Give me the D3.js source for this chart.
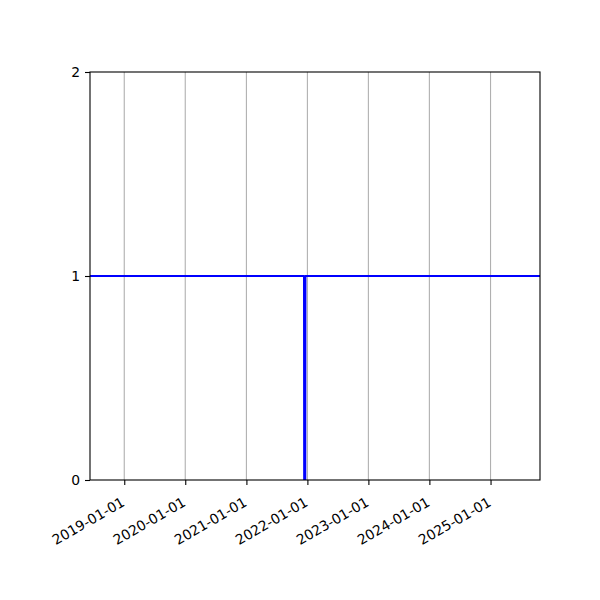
<!DOCTYPE html>
<html>
<head>
<meta charset="utf-8">
<script src="https://cdn.jsdelivr.net/npm/d3@7"></script>
<style>
  html, body { margin: 0; padding: 0; background: #fff; }
  svg { display: block; }
  text { font-family: "DejaVu Sans", sans-serif; fill: #000; }
</style>
</head>
<body>
<div id="chart"></div>
<script>
// Data
const dates = ["2018-06-01", "2021-12-12", "2021-12-13", "2021-12-19", "2021-12-20", "2025-11-01"];
const values = [1, 1, 0, 0, 1, 1];
const xTickLabels = ["2019-01-01", "2020-01-01", "2021-01-01", "2022-01-01", "2023-01-01", "2024-01-01", "2025-01-01"];
const yTickValues = [0, 1, 2];
const xDomain = ["2018-06-10", "2025-10-24"];
const yDomain = [0, 2];

const parse = d3.utcParse("%Y-%m-%d");
const fmt = d3.utcFormat("%Y-%m-%d");
const data = dates.map((d, i) => ({ date: parse(d), value: values[i] }));

const W = 600, H = 600;
const margin = { left: 90, right: 60, top: 72, bottom: 120 };
const iw = W - margin.left - margin.right;
const ih = H - margin.top - margin.bottom;

const svg = d3.select("#chart").append("svg").attr("width", W).attr("height", H);
const g = svg.append("g").attr("transform", `translate(${margin.left},${margin.top})`);

const x = d3.scaleUtc().domain(xDomain.map(parse)).range([0, iw]);
const y = d3.scaleLinear().domain(yDomain).range([ih, 0]);

const xTicks = xTickLabels.map(parse);

// grid
g.append("g").selectAll("line").data(xTicks).join("line")
  .attr("x1", d => x(d)).attr("x2", d => x(d))
  .attr("y1", 0).attr("y2", ih)
  .attr("stroke", "#b0b0b0").attr("stroke-width", 1.1);

// clip
svg.append("defs").append("clipPath").attr("id", "clip")
  .append("rect").attr("width", iw).attr("height", ih);

const line = d3.line().x(d => x(d.date)).y(d => y(d.value));
g.append("path").datum(data)
  .attr("clip-path", "url(#clip)")
  .attr("d", line)
  .attr("fill", "none")
  .attr("stroke", "#0000ff")
  .attr("stroke-width", 2.1)
  .attr("stroke-linejoin", "round");

// frame
g.append("rect").attr("width", iw).attr("height", ih)
  .attr("fill", "none").attr("stroke", "#000").attr("stroke-width", 1.1);

// x axis
const xAxis = d3.axisBottom(x).tickValues(xTicks).tickFormat(fmt).tickSize(5).tickPadding(0);
const xa = g.append("g").attr("transform", `translate(0,${ih})`).call(xAxis);
xa.select(".domain").remove();
xa.selectAll(".tick line").attr("stroke", "#000").attr("stroke-width", 1.1);
xa.selectAll(".tick text")
  .attr("font-size", "13.9px")
  .attr("font-family", "DejaVu Sans")
  .attr("text-anchor", "end")
  .attr("dy", null)
  .attr("y", 0)
  .attr("transform", "translate(1,25) rotate(-30)");

// y axis
const yAxis = d3.axisLeft(y).tickValues(yTickValues).tickFormat(d3.format("d")).tickSize(5).tickPadding(5);
const ya = g.append("g").call(yAxis);
ya.select(".domain").remove();
ya.selectAll(".tick line").attr("stroke", "#000").attr("stroke-width", 1.1);
ya.selectAll(".tick text")
  .attr("font-size", "13.9px")
  .attr("font-family", "DejaVu Sans");
</script>
</body>
</html>
